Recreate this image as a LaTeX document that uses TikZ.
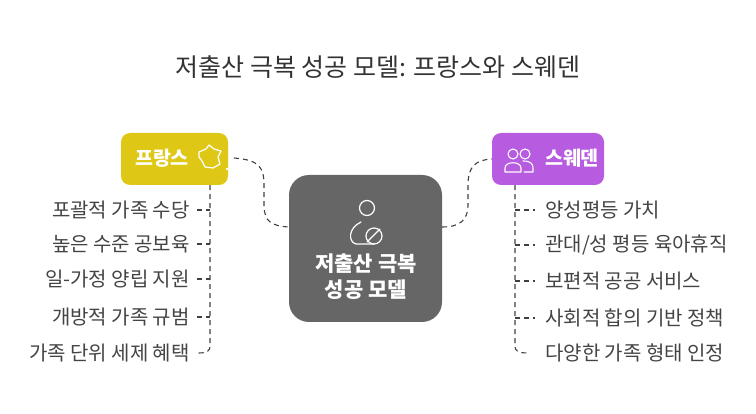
\documentclass[tikz,border=0pt]{standalone}
\usepackage{fontspec}
\setmainfont{Noto Sans CJK KR}
\definecolor{fr}{HTML}{DFC815}
\definecolor{sw}{HTML}{B75BE0}
\definecolor{ctr}{HTML}{666666}
\definecolor{txt}{HTML}{444444}
\tikzset{
 box/.style={rounded corners=9, minimum height=52, inner sep=0},
 lbl/.style={text=white, font=\fontsize{19.5}{22}\selectfont\bfseries, inner sep=0},
 item/.style={text=txt, font=\fontsize{20}{24}\selectfont, inner sep=0},
 conn/.style={dash pattern=on 5pt off 4pt, line width=1.1pt, color=black!75},
 ico/.style={white, line width=1.2pt, line cap=round, line join=round}
}
\begin{document}
\begin{tikzpicture}[x=1pt,y=-1pt]
\useasboundingbox (0,0) rectangle (756,414);
\node[text=black!80, font=\fontsize{25}{30}\selectfont] (title) at (378,67) {저출산 극복 성공 모델: 프랑스와 스웨덴};
% center
\node[fill=ctr, rounded corners=20, minimum width=153, minimum height=147, inner sep=0] (c) at (365.5,248.5) {};
\node[text=white, font=\fontsize{21}{26}\selectfont\bfseries, align=center] (ct) at (366,277) {저출산 극복\\성공 모델};
\begin{scope}[ico]
\draw (367,208) circle (7.5);
\draw (361,222) .. controls (348,228) and (348,242) .. (356,244) -- (374,244);
\draw (374,236) circle (8);
\draw (367,242) -- (380,229);
\end{scope}
% boxes
\node[box, fill=fr, minimum width=107] (fr) at (174.5,159) {};
\node[lbl] (frt) at (162,158) {프랑스};
\draw[ico] (199,152) -- (206,149) -- (209,145) -- (214,149) -- (221,151) -- (218,157) -- (220,164) -- (213,168) -- (205,167) -- (202,161) -- (199,157) -- cycle;
\fill[white] (227,169) circle (1.4);
\node[box, fill=sw, minimum width=112] (sw) at (548,159) {};
\node[lbl] (swt) at (572,158) {스웨덴};
\begin{scope}[ico, line width=1.1pt]
\draw (513,154) circle (5);
\draw (505,172) -- (505,168) .. controls (505,161) and (521,161) .. (521,168) -- (521,172) -- cycle;
\draw (525,154) circle (5);
\draw (523,161) .. controls (531,161) and (533,164) .. (533,168) -- (533,172) -- (524,172);
\end{scope}
% connectors
\coordinate (l1) at (234,158);
\draw[conn] (l1) .. controls (258,160) and (264,166) .. (264,185) -- (264,205) .. controls (264,222) and (272,226) .. (c.west |- 0,227);
\draw[conn] (c.east |- 0,227) .. controls (460,227) and (468,220) .. (468,205) -- (468,185) .. controls (468,166) and (476,160) .. (sw.west);
% left items
\foreach \t/\y/\n in {{포괄적 가족 수당}/210/a, {높은 수준 공보육}/244/b, {일-가정 양립 지원}/279/c, {개방적 가족 규범}/317/d, {가족 단위 세제 혜택}/353/e}{
 \node[item, anchor=east] (L\n) at (190,\y) {\t};
 \coordinate (lt\n) at (210,\y);
}
\draw[conn] (fr.south -| 210,0) -- (210,345) .. controls (210,352) and (207,353) .. (lte -| 197,0);
\foreach \n in {a,b,c,d}{ \draw[conn] (L\n.east) ++(7,0) -- (lt\n); }
% right items
\foreach \t/\y/\n in {{양성평등 가치}/210/a, {관대/성 평등 육아휴직}/245/b, {보편적 공공 서비스}/281/c, {사회적 합의 기반 정책}/318/d, {다양한 가족 형태 인정}/353/e}{
 \node[item, anchor=west] (R\n) at (545,\y) {\t};
 \coordinate (rt\n) at (515,\y);
}
\draw[conn] (sw.south -| 515,0) -- (515,345) .. controls (515,352) and (518,353) .. (rte -| 530,0);
\foreach \n in {a,b,c,d}{ \draw[conn] (rt\n) -- ++(20,0); }
\end{tikzpicture}
\end{document}
